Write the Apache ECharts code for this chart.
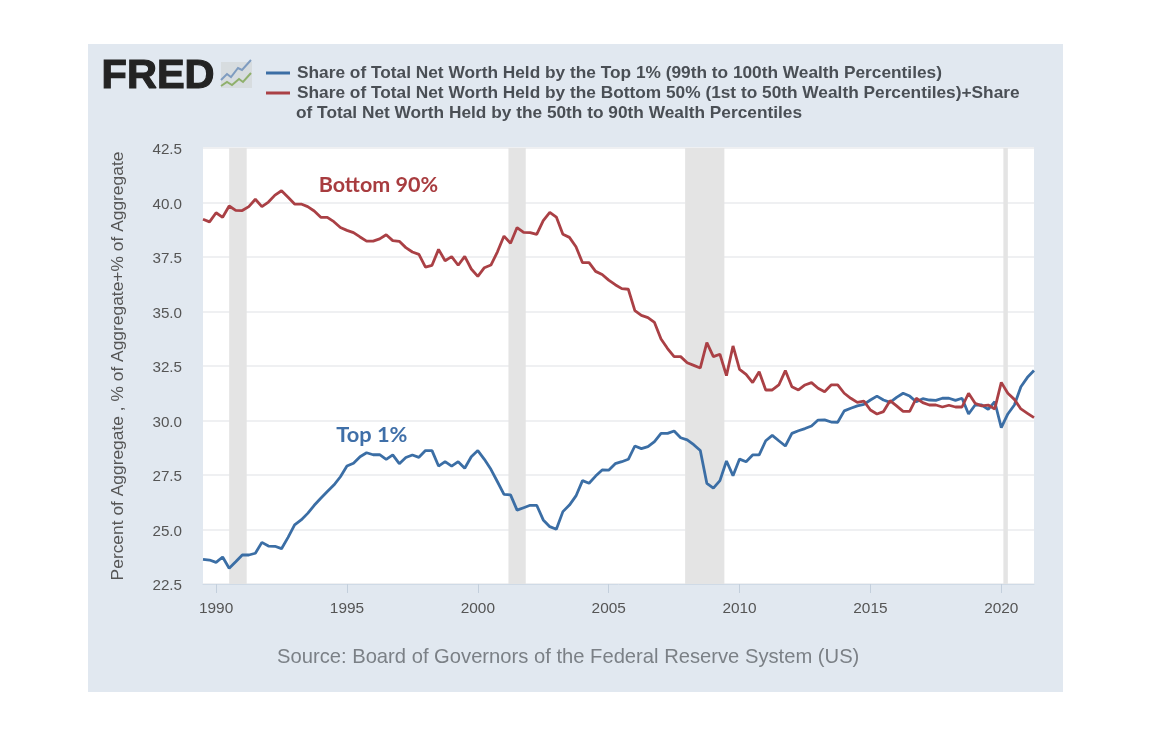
<!DOCTYPE html>
<html>
<head>
<meta charset="utf-8">
<style>html,body{margin:0;padding:0;background:#fff}#c{width:1150px;height:738px}</style>
<script src="https://cdn.jsdelivr.net/npm/echarts@6/dist/echarts.min.js"></script>
</head>
<body>
<div id="c"></div>
<script>
const firstQuarter = 1989.5;
const top1Share = [
23.63,23.60,23.49,23.74,23.22,23.52,23.83,23.83,23.91,24.41,24.24,24.23,24.12,24.64,25.21,25.44,
25.74,26.11,26.43,26.74,27.04,27.42,27.91,28.04,28.34,28.52,28.43,28.43,28.22,28.42,28.02,28.30,
28.42,28.31,28.62,28.62,27.91,28.11,27.91,28.11,27.81,28.34,28.62,28.22,27.76,27.19,26.61,26.59,
25.89,26.00,26.11,26.11,25.44,25.13,25.01,25.82,26.12,26.54,27.24,27.12,27.45,27.73,27.72,28.02,
28.11,28.22,28.83,28.71,28.80,29.03,29.41,29.41,29.52,29.21,29.11,28.89,28.62,27.12,26.90,27.24,
28.14,27.47,28.23,28.11,28.42,28.42,29.07,29.32,29.07,28.83,29.41,29.53,29.63,29.75,30.02,30.03,
29.93,29.92,30.44,30.56,30.67,30.74,30.94,31.12,30.94,30.83,31.06,31.25,31.12,30.86,31.00,30.94,
30.92,31.02,31.02,30.92,31.02,30.30,30.71,30.71,30.51,30.86,29.67,30.30,30.71,31.55,31.98,32.29
];
const bottom90Share = [
39.23,39.11,39.53,39.32,39.84,39.64,39.63,39.81,40.15,39.81,40.02,40.34,40.54,40.24,39.93,39.93,
39.81,39.61,39.32,39.32,39.12,38.85,38.72,38.62,38.42,38.23,38.23,38.33,38.52,38.25,38.22,37.93,
37.73,37.62,37.04,37.12,37.85,37.33,37.52,37.12,37.53,36.95,36.61,37.01,37.13,37.74,38.46,38.13,
38.85,38.63,38.62,38.54,39.17,39.55,39.33,38.54,38.40,37.97,37.24,37.24,36.84,36.70,36.44,36.23,
36.05,36.02,35.04,34.82,34.72,34.50,33.74,33.30,32.93,32.93,32.65,32.53,32.41,33.57,32.93,33.04,
32.06,33.42,32.35,32.12,31.74,32.24,31.40,31.40,31.63,32.29,31.55,31.40,31.63,31.74,31.48,31.32,
31.63,31.63,31.25,31.02,30.83,30.89,30.48,30.30,30.41,30.91,30.67,30.42,30.42,31.02,30.82,30.71,
30.71,30.62,30.70,30.62,30.62,31.25,30.79,30.67,30.71,30.53,31.75,31.25,30.97,30.53,30.33,30.13
];
const recessions = [[1990.5,1991.17],[2001.17,2001.83],[2007.92,2009.42],[2020.08,2020.25]];
const yearTicks = [1990,1995,2000,2005,2010,2015,2020];
const seriesNames = [
  'Share of Total Net Worth Held by the Top 1% (99th to 100th Wealth Percentiles)',
  'Share of Total Net Worth Held by the Bottom 50% (1st to 50th Wealth Percentiles)+Share'
];
const legendContinuation = 'of Total Net Worth Held by the 50th to 90th Wealth Percentiles';
const yAxisTitle = 'Percent of Aggregate , % of Aggregate+% of Aggregate';
const sourceNote = 'Source: Board of Governors of the Federal Reserve System (US)';
const BLUE = '#3b6ea5', RED = '#aa4045';
const SANS = '"Liberation Sans",Arial,sans-serif';

const toPairs = arr => arr.map((v, i) => [firstQuarter + i * 0.25, v]);
const chart = echarts.init(document.getElementById('c'), null, {renderer:'canvas'});
chart.setOption({
  animation:false,
  backgroundColor:'#ffffff',
  textStyle:{fontFamily:SANS},
  grid:{left:203,top:148,width:831,height:436,show:true,backgroundColor:'#ffffff',borderWidth:0},
  legend:{
    left:261,top:58,orient:'vertical',icon:'rect',itemWidth:24,itemHeight:3,itemGap:0,
    align:'left',selectedMode:false,
    textStyle:{fontFamily:SANS,fontSize:14.5,fontWeight:'bold',color:'#4a4f55',lineHeight:20},
    data:seriesNames.map(name=>({name,textStyle:{fontSize:17.3,fontWeight:'bold',padding:[0,0,0,2]}}))
  },
  xAxis:{
    type:'value',min:firstQuarter,max:2021.25,
    splitLine:{show:false},
    axisLine:{show:true,lineStyle:{color:'#cfdae6',width:1}},
    axisTick:{show:true,length:9,lineStyle:{color:'#c3cfdc'},customValues:yearTicks},
    axisLabel:{color:'#555',fontSize:15.4,margin:17,customValues:yearTicks,formatter:v=>String(Math.round(v))}
  },
  yAxis:{
    type:'value',min:22.5,max:42.5,interval:2.5,
    name:yAxisTitle,nameLocation:'middle',nameGap:76,nameRotate:90,
    nameTextStyle:{color:'#555',fontSize:17.4},
    axisLine:{show:false},axisTick:{show:false},
    splitLine:{show:true,lineStyle:{color:'#eff0f2',width:2}},
    axisLabel:{color:'#555',fontSize:15.2,margin:21,verticalAlign:'top',lineHeight:4,formatter:v=>v.toFixed(1)}
  },
  graphic:[
    {type:'rect',z:-10,silent:true,shape:{x:88,y:44,width:975,height:648},style:{fill:'#e1e8f0'}},
    {type:'text',z:5,silent:true,left:101,top:55,style:{text:'FRED',fill:'#232323',stroke:'#232323',lineWidth:1.2,fontFamily:SANS,fontWeight:'bold',fontSize:41.5}},
    {type:'rect',z:5,silent:true,shape:{x:221,y:62,width:31,height:26},style:{fill:'#d7dcdf'}},
    {type:'polyline',z:6,silent:true,shape:{points:[[221,80],[227,74],[231,77],[238,68],[242,70],[251,60]]},style:{stroke:'#7f9cc0',lineWidth:2,fill:null}},
    {type:'polyline',z:6,silent:true,shape:{points:[[221,86],[227,82],[232,85],[239,79],[243,82],[251,73]]},style:{stroke:'#8fb06c',lineWidth:2,fill:null}},
    {type:'text',z:5,silent:true,left:296,top:105,style:{text:legendContinuation,fill:'#4a4f55',fontFamily:SANS,fontWeight:'bold',fontSize:17.3}},
    {type:'text',z:5,silent:true,left:277,top:647,style:{text:sourceNote,fill:'#7b8086',fontFamily:SANS,fontSize:20.2}}
  ],
  series:[
    {name:seriesNames[0],type:'line',data:toPairs(top1Share),showSymbol:false,smooth:false,z:3,
     lineStyle:{color:BLUE,width:2.8},itemStyle:{color:BLUE},
     markPoint:{symbol:'circle',symbolSize:0,silent:true,data:[{coord:[1995.95,29.34],name:'Top 1%',
       label:{show:true,position:'inside',formatter:'Top 1%',color:'#3f6fa8',fontFamily:'Lato,"Open Sans",sans-serif',fontWeight:'bold',fontSize:21.8}}]},
     markArea:{silent:true,z:1,itemStyle:{color:'#e4e4e4',opacity:1},label:{show:false},
       data:recessions.map(r=>[{xAxis:r[0]},{xAxis:r[1]}])}
    },
    {name:seriesNames[1],type:'line',data:toPairs(bottom90Share),showSymbol:false,smooth:false,z:4,
     lineStyle:{color:RED,width:2.8},itemStyle:{color:RED},
     markPoint:{symbol:'circle',symbolSize:0,silent:true,data:[{coord:[1996.2,40.8],name:'Bottom 90%',
       label:{show:true,position:'inside',formatter:'Bottom 90%',color:'#a83c3f',fontFamily:'Lato,"Open Sans",sans-serif',fontWeight:'bold',fontSize:21.5}}]}
    }
  ]
});
</script>
</body>
</html>
